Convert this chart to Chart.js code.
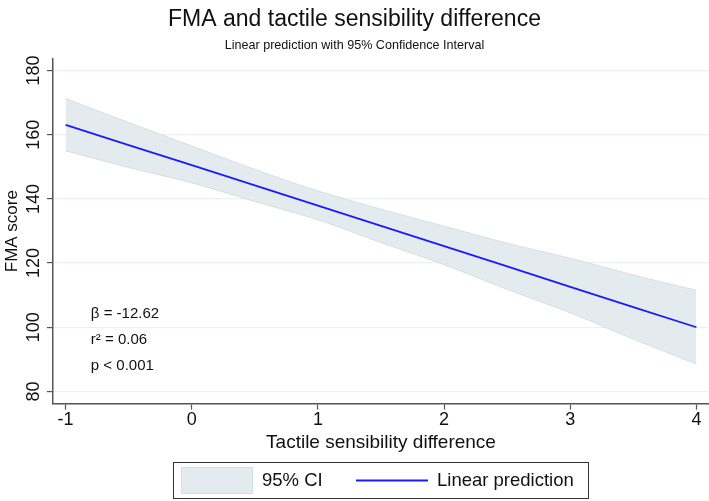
<!DOCTYPE html>
<html>
<head>
<meta charset="utf-8">
<script src="https://cdn.jsdelivr.net/npm/chart.js@4"></script>
<style>
  html, body { margin: 0; padding: 0; background: #fff; }
  #wrap { width: 709px; height: 501px; }
</style>
</head>
<body>
<div id="wrap"><canvas id="cFma" width="709" height="501"></canvas></div>
<script>
/* FMA vs tactile sensibility difference - linear fit with 95% CI */

var xValues  = [-1, -0.5, 0, 0.5, 1, 1.5, 2, 2.5, 3, 3.5, 4];
var fitLine  = [163.1, 156.8, 150.5, 144.2, 137.9, 131.6, 125.3, 119.0, 112.6, 106.3, 100.0];
var ciUpper  = [171.3, 163.8, 156.5, 149.2, 142.5, 136.8, 131.5, 126.2, 121.5, 116.3, 111.5];
var ciLower  = [155.0, 149.8, 145.0, 139.2, 133.5, 126.4, 119.5, 111.8, 104.5, 96.3, 88.5];

var xTicks = [-1, 0, 1, 2, 3, 4];
var yTicks = [80, 100, 120, 140, 160, 180];

var statLines = ["\u03B2 = -12.62", "r\u00B2 = 0.06", "p < 0.001"];
var statY = [104.3, 96.0, 88.0];

var FONT = "'Liberation Sans', Arial, sans-serif";
var BAND = "#e3ebef";
var BAND_EDGE = "#d3dfe5";
var BLUE = "#1a1aff";
var AXIS = "#555555";

function pts(ys) {
  return xValues.map(function(x, i) { return { x: x, y: ys[i] }; });
}

var ctx = document.getElementById("cFma");

new Chart(ctx, {
  type: "line",
  data: {
    datasets: [{
      label: "95% CI",
      data: pts(ciUpper),
      borderColor: BAND_EDGE,
      borderWidth: 1,
      backgroundColor: BAND,
      fill: "+1",
      pointRadius: 0,
      tension: 0.3,
      order: 2
    }, {
      label: "lower",
      data: pts(ciLower),
      borderColor: BAND_EDGE,
      borderWidth: 1,
      fill: false,
      pointRadius: 0,
      tension: 0.3,
      order: 1
    }, {
      label: "Linear prediction",
      data: pts(fitLine),
      borderColor: BLUE,
      borderWidth: 1.8,
      fill: false,
      pointRadius: 0,
      tension: 0,
      order: 0
    }]
  },
  options: {
    responsive: false,
    animation: false,
    layout: { padding: { top: 0, right: 0, bottom: 47, left: 0 } },
    scales: {
      x: {
        type: "linear",
        min: -1.1,
        max: 4.1,
        afterBuildTicks: function(s) { s.ticks = xTicks.map(function(v) { return { value: v }; }); },
        grid: { drawOnChartArea: false, drawTicks: true, tickLength: 6, tickColor: AXIS, tickWidth: 1.2 },
        border: { color: AXIS, width: 1.5 },
        ticks: { color: "#111", font: { size: 18, family: FONT }, padding: 0, maxRotation: 0 },
        title: { display: true, text: "Tactile sensibility difference", color: "#111", font: { size: 19, family: FONT }, padding: { top: 0, bottom: 0 } }
      },
      y: {
        type: "linear",
        min: 76.2,
        max: 183.7,
        afterBuildTicks: function(s) { s.ticks = yTicks.map(function(v) { return { value: v }; }); },
        afterFit: function(s) { s.width = 53; },
        grid: { color: "#e8f0f2", lineWidth: 1.2, drawTicks: true, tickLength: 6, tickColor: AXIS, tickWidth: 1.2 },
        border: { color: AXIS, width: 1.5 },
        ticks: { display: false },
        title: { display: true, text: "FMA score", color: "#111", font: { size: 17, family: FONT }, padding: { top: 2, bottom: 0 } }
      }
    },
    plugins: {
      legend: { display: false },
      tooltip: { enabled: false },
      title: {
        display: true,
        text: "FMA and tactile sensibility difference",
        color: "#111",
        font: { size: 23, family: FONT, weight: "normal" },
        padding: { top: 6, bottom: 4 }
      },
      subtitle: {
        display: true,
        text: "Linear prediction with 95% Confidence Interval",
        color: "#111",
        font: { size: 12.6, family: FONT },
        padding: { top: 0, bottom: 6 }
      }
    }
  },
  plugins: [{
    id: "stataBits",
    afterDraw: function(ch) {
      var c = ch.ctx, sy = ch.scales.y, sx = ch.scales.x, a = ch.chartArea;
      c.save();
      // rotated y tick labels
      c.fillStyle = "#111";
      c.font = "18px " + FONT;
      c.textAlign = "center";
      c.textBaseline = "middle";
      yTicks.forEach(function(v) {
        c.save();
        c.translate(a.left - 19, sy.getPixelForValue(v));
        c.rotate(-Math.PI / 2);
        c.fillText(String(v), 0, 0);
        c.restore();
      });
      // stats annotation
      c.font = "15px " + FONT;
      c.textAlign = "left";
      statLines.forEach(function(t, i) {
        c.fillText(t, sx.getPixelForValue(-0.8), sy.getPixelForValue(statY[i]));
      });
      // legend box
      var lx = 173, ly = 462, lw = 415, lh = 36;
      c.strokeStyle = "#333";
      c.lineWidth = 1;
      c.strokeRect(lx + 0.5, ly + 0.5, lw, lh);
      c.fillStyle = BAND;
      c.fillRect(lx + 8, ly + 5, 72, 27);
      c.strokeStyle = BAND_EDGE;
      c.strokeRect(lx + 8.5, ly + 5.5, 71, 26);
      c.fillStyle = "#111";
      c.font = "18.5px " + FONT;
      c.fillText("95% CI", lx + 89, ly + 19);
      c.strokeStyle = BLUE;
      c.lineWidth = 1.8;
      c.beginPath();
      c.moveTo(lx + 183, ly + 18.5);
      c.lineTo(lx + 255, ly + 18.5);
      c.stroke();
      c.fillText("Linear prediction", lx + 264, ly + 19);
      c.restore();
    }
  }]
});
</script>
</body>
</html>
